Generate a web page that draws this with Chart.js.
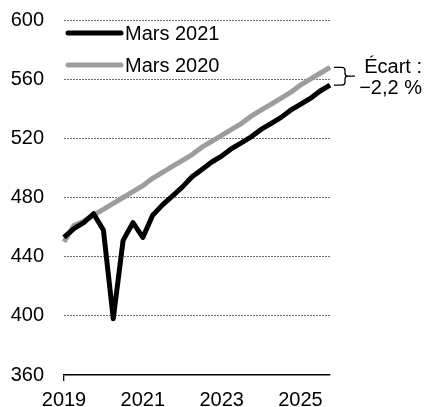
<!DOCTYPE html>
<html>
<head>
<meta charset="utf-8">
<script src="https://cdn.jsdelivr.net/npm/chart.js@4/dist/chart.umd.min.js"></script>
<style>
  html, body { margin: 0; padding: 0; background: #fff; overflow: hidden; }
</style>
</head>
<body>
<canvas id="chart" width="424" height="419"></canvas>
<script>
// quarterly, 2019T1 .. 2025T4
const quarters = [
  '2019T1', '2019T2', '2019T3', '2019T4',
  '2020T1', '2020T2', '2020T3', '2020T4',
  '2021T1', '2021T2', '2021T3', '2021T4',
  '2022T1', '2022T2', '2022T3', '2022T4',
  '2023T1', '2023T2', '2023T3', '2023T4',
  '2024T1', '2024T2', '2024T3', '2024T4',
  '2025T1', '2025T2', '2025T3', '2025T4'
]
const mars2021 = [
  453, 459, 463, 469, 458, 398, 451, 463,
  453, 468, 475, 481, 487, 494, 499, 504,
  508, 513, 517, 521, 526, 530, 534, 539,
  543, 547, 552, 556
]
const mars2020 = [
  450, 461, 464, 468, 472, 476, 480, 484,
  488, 493, 497, 501, 505, 509, 514, 518,
  522, 526, 530, 535, 539, 543, 547, 551,
  556, 560, 564, 568
]
const yearTicks = ['2019', '2021', '2023', '2025']
const gapLines = ['Écart :', '−2,2 %']

const FONT = "'Liberation Sans', Arial, sans-serif"

// legend drawn inside the plot, top left
const insideLegend = {
  id: 'insideLegend',
  afterDraw(chart) {
    const ctx = chart.ctx, a = chart.chartArea
    ctx.save()
    ctx.font = '20px ' + FONT
    ctx.textBaseline = 'middle'
    ctx.lineCap = 'round'
    chart.data.datasets.forEach((ds, i) => {
      const y = a.top + 13 + i * 32
      ctx.strokeStyle = ds.borderColor
      ctx.lineWidth = ds.borderWidth
      ctx.beginPath()
      ctx.moveTo(a.left + 4, y)
      ctx.lineTo(a.left + 57, y)
      ctx.stroke()
      ctx.fillStyle = '#000'
      ctx.fillText(ds.label, a.left + 61, y + 1)
    })
    ctx.restore()
  }
}

// brace + gap label at the last point
const gapBrace = {
  id: 'gapBrace',
  afterDraw(chart) {
    const ctx = chart.ctx
    const last = quarters.length - 1
    const x0 = chart.scales.x.getPixelForValue(last) + 4
    const yTop = chart.scales.y.getPixelForValue(mars2020[last])
    const yBot = chart.scales.y.getPixelForValue(mars2021[last])
    const xv = x0 + 11, ym = (yTop + yBot) / 2, r = 3
    ctx.save()
    ctx.strokeStyle = '#000'
    ctx.lineWidth = 1.3
    ctx.beginPath()
    ctx.moveTo(x0, yTop)
    ctx.lineTo(xv - r, yTop)
    ctx.quadraticCurveTo(xv, yTop, xv, yTop + r)
    ctx.lineTo(xv, ym - r)
    ctx.quadraticCurveTo(xv, ym, xv + r, ym)
    ctx.lineTo(xv + 10, ym)
    ctx.moveTo(xv + r, ym)
    ctx.quadraticCurveTo(xv, ym, xv, ym + r)
    ctx.lineTo(xv, yBot - r)
    ctx.quadraticCurveTo(xv, yBot, xv - r, yBot)
    ctx.lineTo(x0, yBot)
    ctx.stroke()
    ctx.fillStyle = '#000'
    ctx.font = '20px ' + FONT
    ctx.textBaseline = 'middle'
    ctx.textAlign = 'right'
    ctx.fillText(gapLines[0], 422, yTop)
    ctx.fillText(gapLines[1], 422, yBot + 3)
    ctx.restore()
  }
}

new Chart(document.getElementById('chart'), {
  type: 'line',
  data: {
    labels: quarters,
    datasets: [
      { label: 'Mars 2021', data: mars2021, borderColor: '#000000', borderWidth: 5, order: 1 },
      { label: 'Mars 2020', data: mars2020, borderColor: '#9d9d9d', borderWidth: 5, order: 2 }
    ]
  },
  options: {
    responsive: false,
    animation: false,
    layout: { padding: { left: 6, right: 94, top: 20, bottom: 0 } },
    elements: {
      point: { radius: 0 },
      line: { tension: 0, borderJoinStyle: 'round', borderCapStyle: 'butt' }
    },
    plugins: { legend: { display: false }, tooltip: { enabled: false } },
    scales: {
      x: {
        offset: false,
        afterFit(scale) { scale.paddingLeft = 0; scale.paddingRight = 0 },
        grid: {
          drawOnChartArea: false,
          drawTicks: true,
          tickLength: 6,
          color: ctx => (ctx.index % 8 === 0 ? '#000' : 'rgba(0,0,0,0)'),
          tickColor: ctx => (ctx.index % 8 === 0 ? '#000' : 'rgba(0,0,0,0)'),
          lineWidth: 1.3
        },
        border: { display: true, color: '#000', width: 1.5 },
        ticks: {
          autoSkip: false,
          maxRotation: 0,
          padding: 7,
          color: '#000',
          font: { family: FONT, size: 20 },
          callback: (v, i) => (i % 8 === 0 ? yearTicks[i / 8] : null)
        }
      },
      y: {
        min: 360,
        max: 600,
        afterFit(scale) { scale.width = 58; scale.paddingTop = 12; scale.paddingBottom = 12 },
        grid: {
          drawTicks: false,
          color: '#6e6e6e',
          lineWidth: ctx => (ctx.tick && ctx.tick.value === 360 ? 0 : 1)
        },
        border: { display: false, dash: [2, 1] },
        ticks: {
          stepSize: 40,
          padding: 20,
          color: '#000',
          font: { family: FONT, size: 20 }
        }
      }
    }
  },
  plugins: [insideLegend, gapBrace]
})
</script>
</body>
</html>
